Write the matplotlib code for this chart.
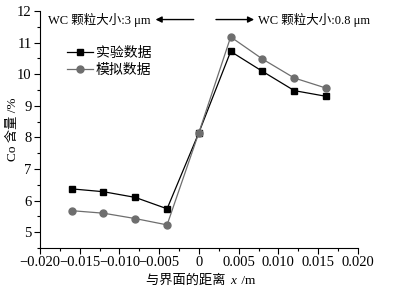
import matplotlib
matplotlib.use("Agg")
import matplotlib.pyplot as plt
from matplotlib.ticker import MultipleLocator

plt.rcParams['font.family'] = ['Liberation Serif', 'Noto Sans CJK SC']

# distance from interface (m)
x = [-0.016, -0.012, -0.008, -0.004, 0.0, 0.004, 0.008, 0.012, 0.016]
# Co content (%)
exp_vals = [6.37, 6.28, 6.10, 5.74, 8.15, 10.72, 10.09, 9.48, 9.30]
sim_vals = [5.68, 5.60, 5.43, 5.23, 8.15, 11.18, 10.48, 9.88, 9.56]

exp_label = "实验数据"
sim_label = "模拟数据"
left_note = "WC 颗粒大小:3 μm"
right_note = "WC 颗粒大小:0.8 μm"
xticks = [-0.020, -0.015, -0.010, -0.005, 0, 0.005, 0.010, 0.015, 0.020]
xtick_labels = ["\u22120.020", "\u22120.015", "\u22120.010", "\u22120.005", "0",
                "0.005", "0.010", "0.015", "0.020"]
yticks = [5, 6, 7, 8, 9, 10, 11, 12]

fig = plt.figure(figsize=(3.95, 2.90), dpi=100)
ax = fig.add_axes([0.101, 0.145, 0.805, 0.817])

gray = "#6e6e6e"
ax.plot(x, exp_vals, color="black", lw=0.9, marker="s", ms=5, label=exp_label)
ax.plot(x, sim_vals, color=gray, lw=0.9, marker="o", ms=5, label=sim_label)

ax.set_xlim(-0.020, 0.020)
ax.set_ylim(4.5, 12)
ax.set_xticks(xticks)
ax.set_xticklabels(xtick_labels)
ax.set_yticks(yticks)
ax.xaxis.set_minor_locator(MultipleLocator(0.0025))
ax.yaxis.set_minor_locator(MultipleLocator(0.5))
ax.tick_params(which="both", direction="out", labelsize=10.5, width=0.8, pad=2)
ax.tick_params(which="major", length=4)
ax.tick_params(which="minor", length=2.5)
ax.spines["top"].set_visible(False)
ax.spines["right"].set_visible(False)

ax.set_ylabel("Co 含量 /%", fontsize=9.5)
ax.yaxis.set_label_coords(-0.066, 0.5)

# x label: CJK part plus italic x
fig.text(229 / 395, 0.022, "与界面的距离 ", fontsize=9.5, ha="right", va="baseline")
fig.text(230 / 395, 0.022, "x", fontsize=9.5, ha="left", va="baseline", fontstyle="italic")
fig.text(238 / 395, 0.022, " /m", fontsize=9.5, ha="left", va="baseline")

ax.legend(loc="upper left", bbox_to_anchor=(0.045, 0.90), frameon=False, fontsize=10,
          handlelength=1.9, handletextpad=0.2, labelspacing=0.25)

ax.annotate("", xy=(-0.0058, 11.73), xytext=(-0.0003, 11.73),
            arrowprops=dict(arrowstyle="-|>", color="black", lw=1.0, mutation_scale=9))
ax.annotate("", xy=(0.0073, 11.73), xytext=(0.0018, 11.73),
            arrowprops=dict(arrowstyle="-|>", color="black", lw=1.0, mutation_scale=9))
ax.text(-0.0190, 11.73, left_note, fontsize=9, va="center", ha="left")
ax.text(0.0074, 11.73, right_note, fontsize=9, va="center", ha="left")

fig.savefig("out.png", dpi=100)
